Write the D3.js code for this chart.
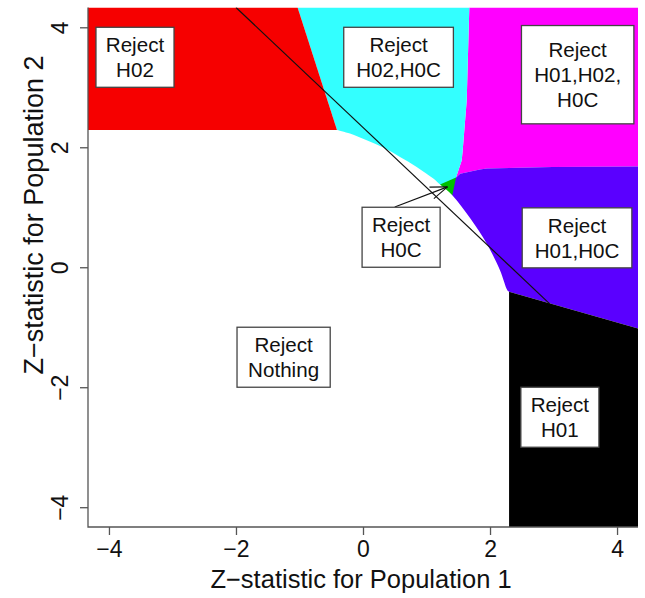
<!DOCTYPE html>
<html><head><meta charset="utf-8">
<script src="https://cdn.jsdelivr.net/npm/d3@7"></script>
<style>
body{margin:0;background:#fff}
svg{display:block}
text{font-family:"Liberation Sans",Arial,Helvetica,sans-serif;fill:#111}
</style>
</head><body>
<svg id="c" width="645" height="598"></svg>
<script>
// ---------- data ----------
const xDomain = [-4.33, 4.33];
const yDomain = [-4.33, 4.33];
const xTicks = [-4, -2, 0, 2, 4];
const yTicks = [-4, -2, 0, 2, 4];
const xTitle = "Z\u2212statistic for Population 1";
const yTitle = "Z\u2212statistic for Population 2";

// Reject H02 (red)
const redX = [-4.33, -1.03, -0.41, -4.33];
const redY = [ 4.33,  4.33,  2.29,  2.29];
// Reject H01 (black)
const blackX = [2.30,  4.33,  4.33,  2.30];
const blackY = [-0.41, -1.02, -4.33, -4.33];
// boundary cyan | magenta (top -> bottom)
const cmX = [1.674, 1.633, 1.57, 1.554, 1.465];
const cmY = [4.33,  2.78,  1.95, 1.78,  1.495];
// boundary blue | magenta (left -> right)
const bmX = [1.465, 1.53, 1.84,  1.95,  2.99, 4.33];
const bmY = [1.495, 1.56, 1.628, 1.645, 1.67, 1.68];
// white (Reject Nothing) upper boundary, left -> right
const wuX = [-0.41, -0.205, 0.058, 0.320, 0.583, 0.845, 1.107, 1.213];
const wuY = [ 2.29,  2.228, 2.117, 1.995, 1.838, 1.672, 1.478, 1.378];
// white lower boundary, top -> bottom
const wlX = [1.406, 1.685, 1.948, 2.157, 2.273, 2.30];
const wlY = [1.20,  0.82,  0.395, -0.05, -0.383, -0.41];
// Reject H0C (green)
const greenX = [1.213, 1.465, 1.406, 1.20];
const greenY = [1.378, 1.495, 1.20,  1.20];
// straight reference line
const refX = [-2.0, 2.94];
const refY = [4.33, -0.61];
// arrow (from label to green region)
const arrowX = [0.50, 1.33];
const arrowY = [1.005, 1.34];

const labelText = [
  ["Reject", "H02"],
  ["Reject", "H02,H0C"],
  ["Reject", "H01,H02,", "H0C"],
  ["Reject", "H0C"],
  ["Reject", "H01,H0C"],
  ["Reject", "Nothing"],
  ["Reject", "H01"]
];
const labelX = [-3.59, 0.56, 3.38, 0.60, 3.37, -1.25, 3.10];
const labelY = [ 3.50, 3.50, 3.21, 0.50, 0.49, -1.50, -2.50];

const colors = {red:"#f60000", cyan:"#33ffff", magenta:"#ff00ff", blue:"#5a00ff", green:"#00c000", black:"#000000"};

// ---------- drawing ----------
const W = 645, H = 598;
const m = {left: 88, right: 7, top: 7.5, bottom: 71};
const svg = d3.select("#c");
const x = d3.scaleLinear().domain(xDomain).range([m.left, W - m.right]);
const y = d3.scaleLinear().domain(yDomain).range([H - m.bottom, m.top]);
const zip = (a, b) => a.map((v, i) => [v, b[i]]);
const poly = d3.line().x(d => x(d[0])).y(d => y(d[1]));
const smooth = d3.line().x(d => x(d[0])).y(d => y(d[1])).curve(d3.curveCatmullRom.alpha(0.5));

svg.append("clipPath").attr("id", "clip").append("rect")
  .attr("x", x(xDomain[0])).attr("y", y(yDomain[1]))
  .attr("width", x(xDomain[1]) - x(xDomain[0])).attr("height", y(yDomain[0]) - y(yDomain[1]));
const g = svg.append("g").attr("clip-path", "url(#clip)");

const cm = zip(cmX, cmY), bm = zip(bmX, bmY);
const origin = [0, 0];

// magenta
const magPts = [[xDomain[1], yDomain[1]], [xDomain[1], bmY[bmY.length - 1]]]
  .concat(bm.slice().reverse().slice(1))
  .concat(cm.slice().reverse().slice(1))
  .concat([[cmX[0], yDomain[1]]]);
g.append("path").attr("d", poly(magPts) + "Z").attr("fill", colors.magenta);
// cyan
const cyanPts = [[redX[1], redY[1]]].concat(cm).concat([origin, [redX[2], redY[2]]]);
g.append("path").attr("d", poly(cyanPts) + "Z").attr("fill", colors.cyan);
// blue
const bluePts = bm.concat([[blackX[1], blackY[1]], [blackX[0], blackY[0]], origin]);
g.append("path").attr("d", poly(bluePts) + "Z").attr("fill", colors.blue);
// green
g.append("path").attr("d", poly(zip(greenX, greenY)) + "Z").attr("fill", colors.green);
// white (reject nothing)
const wPts = zip(wuX, wuY).concat(zip(wlX, wlY));
const wPath = smooth(wPts) +
  "L" + x(wlX[wlX.length - 1]) + "," + y(yDomain[0]) +
  "L" + x(xDomain[0]) + "," + y(yDomain[0]) +
  "L" + x(xDomain[0]) + "," + y(wuY[0]) + "Z";
g.append("path").attr("d", wPath).attr("fill", "#ffffff");
// red & black
g.append("path").attr("d", poly(zip(redX, redY)) + "Z").attr("fill", colors.red);
g.append("path").attr("d", poly(zip(blackX, blackY)) + "Z").attr("fill", colors.black);

// reference line
g.append("path").attr("d", poly(zip(refX, refY))).attr("stroke", "#111").attr("stroke-width", 1.2).attr("fill", "none");

// arrow
const ax0 = x(arrowX[0]), ay0 = y(arrowY[0]), ax1 = x(arrowX[1]), ay1 = y(arrowY[1]);
const ang = Math.atan2(ay1 - ay0, ax1 - ax0), hl = 18, ha = 20 * Math.PI / 180;
const arrow = g.append("g").attr("stroke", "#111").attr("stroke-width", 1.1).attr("fill", "none");
arrow.append("line").attr("x1", ax0).attr("y1", ay0).attr("x2", ax1).attr("y2", ay1);
[-1, 1].forEach(s => {
  arrow.append("line").attr("x1", ax1).attr("y1", ay1)
    .attr("x2", ax1 - hl * Math.cos(ang + s * ha)).attr("y2", ay1 - hl * Math.sin(ang + s * ha));
});

// labels
const fs = 20.6, lh = 24.8;
labelText.forEach((lines, i) => {
  const cx = x(labelX[i]), cy = y(labelY[i]);
  const lg = svg.append("g");
  const rect = lg.append("rect").attr("fill", "#fff").attr("stroke", "#444").attr("stroke-width", 1.3);
  let maxW = 0;
  lines.forEach((t, k) => {
    const tx = lg.append("text").attr("x", cx).attr("y", cy + (k - (lines.length - 1) / 2) * lh + 7.5)
      .attr("text-anchor", "middle").attr("font-size", fs).text(t);
    maxW = Math.max(maxW, tx.node().getComputedTextLength());
  });
  const bw = 1.2 * maxW + 8, bh = 38.3 * lines.length - 16.6;
  rect.attr("x", cx - bw / 2).attr("y", cy - bh / 2).attr("width", bw).attr("height", bh);
});

// axes frame (L-shaped)
const axisCol = "#555";
svg.append("path")
  .attr("d", `M${x(xDomain[0])},${y(yDomain[1])}V${y(yDomain[0])}H${x(xDomain[1])}`)
  .attr("stroke", axisCol).attr("stroke-width", 1.3).attr("fill", "none");

const fmt = d => d < 0 ? "\u2212" + Math.abs(d) : String(d);
const xa = svg.append("g").attr("transform", `translate(0,${y(yDomain[0])})`)
  .call(d3.axisBottom(x).tickValues(xTicks).tickSize(8).tickSizeOuter(0).tickFormat(fmt));
xa.select(".domain").remove();
xa.selectAll(".tick line").attr("stroke", axisCol).attr("stroke-width", 1.3);
xa.selectAll(".tick text").attr("font-size", 23).attr("font-family", null).attr("fill", "#111")
  .attr("dy", null).attr("y", 30);

const ya = svg.append("g").attr("transform", `translate(${x(xDomain[0])},0)`)
  .call(d3.axisLeft(y).tickValues(yTicks).tickSize(8).tickSizeOuter(0).tickFormat(fmt));
ya.select(".domain").remove();
ya.selectAll(".tick line").attr("stroke", axisCol).attr("stroke-width", 1.3);
ya.selectAll(".tick text").attr("font-size", 23).attr("font-family", null).attr("fill", "#111")
  .attr("x", null).attr("dy", null).attr("text-anchor", "middle")
  .attr("transform", "translate(-20,0) rotate(-90)");

svg.append("text").attr("x", 361).attr("y", 588).attr("text-anchor", "middle")
  .attr("font-size", 25.5).text(xTitle);
svg.append("text").attr("transform", "translate(43,215) rotate(-90)").attr("text-anchor", "middle")
  .attr("font-size", 27).text(yTitle);
</script>
</body></html>
